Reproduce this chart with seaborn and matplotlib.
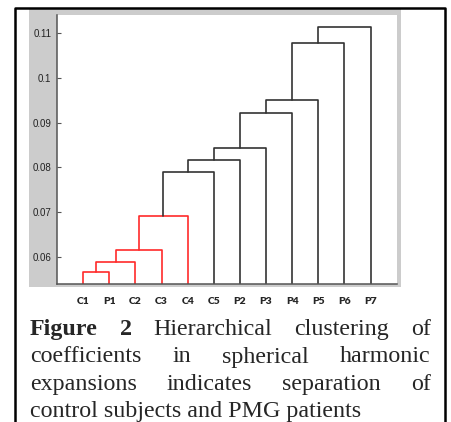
import matplotlib
matplotlib.use('Agg')
import matplotlib.pyplot as plt
from matplotlib.patches import Rectangle
from matplotlib.lines import Line2D
import pandas as pd
import seaborn as sns

# Leaf order and merge heights.
# Each merge joins the cluster built so far with the next leaf.
leaves = ['C1', 'P1', 'C2', 'C3', 'C4', 'C5', 'P2', 'P3', 'P4', 'P5', 'P6', 'P7']
heights = [0.0567, 0.0589, 0.0616, 0.0693, 0.0789, 0.0816,
           0.0843, 0.0921, 0.0951, 0.1076, 0.1112]
color_threshold = 0.0778
ytick_vals = [0.06, 0.07, 0.08, 0.09, 0.1, 0.11]
ytick_labels = ['0.06', '0.07', '0.08', '0.09', '0.1', '0.11']

caption = [
    [('Figure', True), ('2', True), ('Hierarchical', False),
     ('clustering', False), ('of', False)],
    [('coefficients', False), ('in', False), ('spherical', False),
     ('harmonic', False)],
    [('expansions', False), ('indicates', False), ('separation', False),
     ('of', False)],
    [('control subjects and PMG patients', False)],
]

W, H = 452, 422

sns.set_style('ticks')
plt.rcParams['font.family'] = ['Liberation Sans', 'DejaVu Sans']

fig = plt.figure(figsize=(W / 100, H / 100), dpi=100)
fig.patch.set_facecolor('white')


def fx(px):
    return px / W


def fy(py):
    return 1 - py / H


# grey panel behind the axes
fig.patches.append(Rectangle((fx(29), fy(286.7)), fx(400.7) - fx(29),
                             fy(9) - fy(286.7), transform=fig.transFigure,
                             facecolor='#cccccc', edgecolor='none',
                             zorder=-10))

# outer frame (open at the bottom)
fig.lines.append(Line2D([fx(15.3), fx(15.3), fx(445.5), fx(445.5)],
                        [fy(440), fy(7.8), fy(7.8), fy(440)],
                        transform=fig.transFigure, color='black', lw=1.8))

ax = fig.add_axes([fx(57), fy(284), fx(396.7) - fx(57), fy(15) - fy(284)])
ax.set_facecolor('white')

# build the U shaped links
rows = []
cx, cy = 1, 0.0
for i, h in enumerate(heights):
    nx = i + 2
    grp = 'low' if h < color_threshold else 'high'
    for x, y in [(cx, cy), (cx, h), (nx, h), (nx, 0.0)]:
        rows.append({'link': i, 'x': x, 'y': y, 'grp': grp})
    cx, cy = (cx + nx) / 2, h
df = pd.DataFrame(rows)

sns.lineplot(data=df, x='x', y='y', units='link', estimator=None,
             sort=False, hue='grp', palette={'low': '#ff2a2a',
                                             'high': '#333333'},
             lw=1.2, legend=False, ax=ax)

ax.set_xlim(0, 13)
ax.set_ylim(0.0541, 0.1139)
ax.set_xlabel('')
ax.set_ylabel('')

ax.set_yticks(ytick_vals)
ax.set_yticklabels(ytick_labels, fontsize=7, color='#222222')
ax.tick_params(axis='y', direction='in', length=3, width=0.8,
               color='#555555', pad=4)

ax.set_xticks(range(1, len(leaves) + 1))
ax.set_xticklabels(leaves, fontsize=7.5, fontweight='heavy', family='Lato')
ax.tick_params(axis='x', length=0, pad=9)

for side in ['top', 'right']:
    ax.spines[side].set_visible(False)
for side in ['left', 'bottom']:
    ax.spines[side].set_color('#555555')
    ax.spines[side].set_linewidth(1.1)

# justified caption
renderer = fig.canvas.get_renderer()
left, right = 30, 430.7
baselines = [335, 362.5, 390, 417]
for k, words in enumerate(caption):
    texts = []
    for word, bold in words:
        t = fig.text(0, fy(baselines[k]), word, fontsize=17.3,
                     family=['Liberation Serif', 'DejaVu Serif'],
                     fontweight='bold' if bold else 'normal',
                     va='baseline', ha='left')
        texts.append(t)
    widths = [t.get_window_extent(renderer).width for t in texts]
    if k == len(caption) - 1 or len(texts) == 1:
        gap = 0
    else:
        gap = (right - left - sum(widths)) / (len(texts) - 1)
    pos = left
    for t, w in zip(texts, widths):
        t.set_x(fx(pos))
        pos += w + gap

fig.savefig('out.png', dpi=100)
